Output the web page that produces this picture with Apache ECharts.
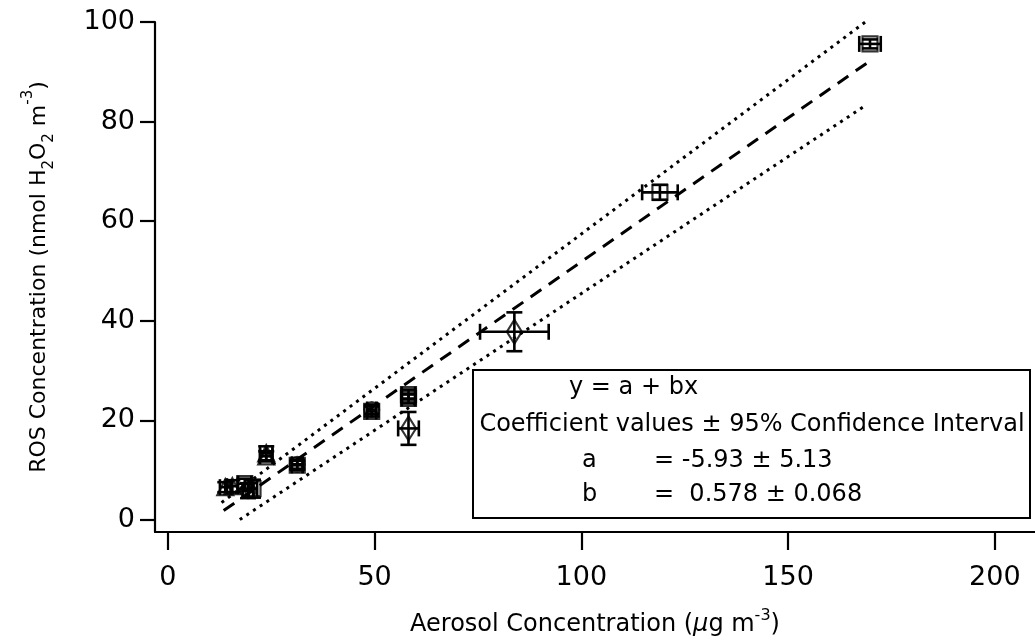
<!DOCTYPE html>
<html>
<head>
<meta charset="utf-8">
<script src="https://cdn.jsdelivr.net/npm/echarts@6/dist/echarts.min.js"></script>
<style>
  html, body { margin: 0; padding: 0; background: #fff; }
  #chart { width: 1035px; height: 642px; }
</style>
</head>
<body>
<div id="chart"></div>
<script>
// 数据: [x, y, x误差, y误差]
var squarePts = [
    [169.8, 95.6, 2.6, 0.9],
    [119.0, 65.8, 4.3, 1.5],
    [58.2, 25.2, 1.6, 1.0],
    [58.2, 24.4, 1.6, 1.0],
    [49.3, 21.8, 1.1, 1.0],
    [31.3, 11.0, 1.3, 0.9],
    [18.6, 7.3, 1.6, 1.0],
    [20.6, 6.3, 1.0, 1.8]
];
var circlePts = [
    [49.3, 22.2, 1.1, 0.9],
    [31.3, 11.2, 1.3, 0.9],
    [19.4, 5.9, 1.3, 1.5]
];
var trianglePts = [
    [23.8, 13.4, 1.5, 1.4],
    [23.8, 12.8, 1.5, 1.0],
    [13.9, 6.6, 1.3, 1.0],
    [15.6, 6.8, 1.3, 1.2]
];
var diamondPts = [
    [83.8, 37.8, 8.3, 3.9],
    [58.2, 18.4, 2.5, 3.3]
];
// 拟合线和置信区间
var fitLine = [[13.5, 1.9], [170, 92.3]];
var upperBand = [[13, 3.5], [169, 100.2]];
var lowerBand = [[17.4, 0.1], [169, 83.4]];
var xTicks = [0, 50, 100, 150, 200];
var yTicks = [0, 20, 40, 60, 80, 100];

var FONT = 'DejaVu Sans';
var allPts = squarePts.concat(circlePts, trianglePts, diamondPts);

// 误差棒
function renderErr(params, api) {
    var x = api.value(0), y = api.value(1), ex = api.value(2), ey = api.value(3);
    var l = api.coord([x - ex, y]), r = api.coord([x + ex, y]);
    var t = api.coord([x, y + ey]), b = api.coord([x, y - ey]);
    var cap = 8;
    var st = { stroke: '#000', lineWidth: 2.6 };
    function ln(x1, y1, x2, y2) {
        return { type: 'line', shape: { x1: x1, y1: y1, x2: x2, y2: y2 }, style: st };
    }
    return {
        type: 'group',
        children: [
            ln(l[0], l[1], r[0], r[1]),
            ln(l[0], l[1] - cap, l[0], l[1] + cap),
            ln(r[0], r[1] - cap, r[0], r[1] + cap),
            ln(t[0], t[1], b[0], b[1]),
            ln(t[0] - cap, t[1], t[0] + cap, t[1]),
            ln(b[0] - cap, b[1], b[0] + cap, b[1])
        ]
    };
}

function markers(pts, symbol, size) {
    return {
        type: 'scatter',
        data: pts.map(function (p) { return [p[0], p[1]]; }),
        symbol: symbol,
        symbolSize: size,
        itemStyle: { color: 'transparent', borderColor: '#000', borderWidth: 2.2 },
        z: 4
    };
}

function band(data, dash) {
    return {
        type: 'line',
        data: data,
        symbol: 'none',
        silent: true,
        lineStyle: { color: '#000', width: 3, type: dash },
        z: 2
    };
}

var chart = echarts.init(document.getElementById('chart'));
chart.setOption({
    animation: false,
    backgroundColor: '#fff',
    grid: { left: 155, right: 0, top: 22, bottom: 109 },
    xAxis: {
        type: 'value',
        min: -3.1,
        max: 209.7,
        splitLine: { show: false },
        axisLine: { onZero: false, lineStyle: { color: '#000', width: 2.2 } },
        axisTick: { customValues: xTicks, length: 18, lineStyle: { color: '#000', width: 2.2 } },
        axisLabel: { customValues: xTicks, margin: 32, color: '#000', fontSize: 27, fontFamily: FONT },
        name: '{n|Aerosol Concentration (}{mu|μ}{n|g m}{sup|-3}{n|)}',
        nameLocation: 'middle',
        nameGap: 76,
        nameTextStyle: {
            color: '#000', fontSize: 24, fontFamily: FONT,
            rich: {
                n: { fontSize: 24, fontFamily: FONT, color: '#000', lineHeight: 34 },
                mu: { fontSize: 24, fontFamily: FONT, fontStyle: 'italic', color: '#000', lineHeight: 34 },
                sup: { fontSize: 16, fontFamily: FONT, color: '#000', verticalAlign: 'top', lineHeight: 34 }
            }
        }
    },
    yAxis: {
        type: 'value',
        min: -2.4,
        max: 100,
        splitLine: { show: false },
        axisLine: { onZero: false, lineStyle: { color: '#000', width: 2.2 } },
        axisTick: { customValues: yTicks, length: 15, lineStyle: { color: '#000', width: 2.2 } },
        axisLabel: { customValues: yTicks, margin: 20, color: '#000', fontSize: 27, fontFamily: FONT },
        name: '{n|ROS Concentration (nmol H}{sub|2}{n|O}{sub|2}{n| m}{sup|-3}{n|)}',
        nameLocation: 'middle',
        nameRotate: 90,
        nameGap: 98,
        nameTextStyle: {
            color: '#000', fontSize: 22, fontFamily: FONT,
            rich: {
                n: { fontSize: 22, fontFamily: FONT, color: '#000', lineHeight: 36 },
                sub: { fontSize: 15, fontFamily: FONT, color: '#000', verticalAlign: 'bottom', lineHeight: 36 },
                sup: { fontSize: 15, fontFamily: FONT, color: '#000', verticalAlign: 'top', lineHeight: 36 }
            }
        }
    },
    series: [
        band(upperBand, [3, 5]),
        band(lowerBand, [3, 5]),
        band(fitLine, [13, 9]),
        {
            type: 'custom',
            renderItem: renderErr,
            data: allPts,
            encode: { x: 0, y: 1 },
            z: 3
        },
        markers(squarePts, 'rect', 15),
        markers(circlePts, 'circle', 15),
        markers(trianglePts, 'triangle', 16),
        markers(diamondPts, 'diamond', [15, 24])
    ],
    graphic: [
        {
            type: 'rect',
            shape: { x: 473, y: 370, width: 557, height: 148 },
            style: { fill: '#fff', stroke: '#000', lineWidth: 2 },
            z: 10
        },
        { type: 'text', x: 569, y: 388, z: 11, style: { text: 'y = a + bx', fontSize: 24, fontFamily: FONT, fill: '#000', verticalAlign: 'middle' } },
        { type: 'text', x: 752, y: 425, z: 11, style: { text: 'Coefficient values ± 95% Confidence Interval', fontSize: 24, fontFamily: FONT, fill: '#000', align: 'center', verticalAlign: 'middle' } },
        { type: 'text', x: 582, y: 461, z: 11, style: { text: 'a', fontSize: 24, fontFamily: FONT, fill: '#000', verticalAlign: 'middle' } },
        { type: 'text', x: 654, y: 461, z: 11, style: { text: '= -5.93 ± 5.13', fontSize: 24, fontFamily: FONT, fill: '#000', verticalAlign: 'middle' } },
        { type: 'text', x: 582, y: 495, z: 11, style: { text: 'b', fontSize: 24, fontFamily: FONT, fill: '#000', verticalAlign: 'middle' } },
        { type: 'text', x: 654, y: 495, z: 11, style: { text: '=  0.578 ± 0.068', fontSize: 24, fontFamily: FONT, fill: '#000', verticalAlign: 'middle' } }
    ]
});
</script>
</body>
</html>
